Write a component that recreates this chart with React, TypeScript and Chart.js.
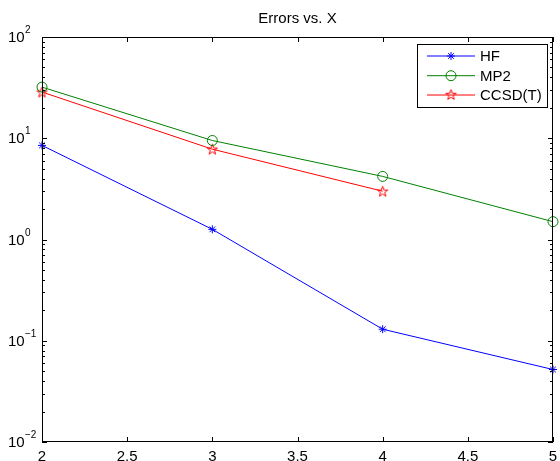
import React, { useEffect, useRef } from 'react';
import { Chart, registerables } from 'chart.js';
import { drawPoint } from 'chart.js/helpers';

Chart.register(...registerables);

const xValues = [2, 3, 4, 5];
const hfErrors = [8.5, 1.26, 0.13, 0.052];
const mp2Errors = [32, 9.5, 4.2, 1.5];
const ccsdtErrors = [28.6, 7.8, 3.0];
const seriesNames = ['HF', 'MP2', 'CCSD(T)'];
const seriesColors = ['#0000ff', '#008000', '#ff0000'];
const xTicks = [2, 2.5, 3, 3.5, 4, 4.5, 5];
const yExponents = [-2, -1, 0, 1, 2];
const titleText = 'Errors vs. X';

const FONT = '"Liberation Sans", Arial, Helvetica, sans-serif';

function makePentagram(color: string, size: number) {
  const c = document.createElement('canvas');
  c.width = size;
  c.height = size;
  const ctx = c.getContext('2d')!;
  const cx = size / 2;
  const cy = size / 2 + 0.5;
  const R = size / 2 - 1;
  const r = R * 0.4;
  ctx.beginPath();
  for (let i = 0; i < 10; i++) {
    const a = -Math.PI / 2 + (i * Math.PI) / 5;
    const rr = i % 2 ? r : R;
    const px = cx + rr * Math.cos(a);
    const py = cy + rr * Math.sin(a);
    if (i === 0) ctx.moveTo(px, py);
    else ctx.lineTo(px, py);
  }
  ctx.closePath();
  ctx.strokeStyle = color;
  ctx.lineWidth = 1;
  ctx.stroke();
  return c;
}

const toPoints = (vals: number[]) => vals.map((v, i) => ({ x: xValues[i], y: v }));

export default function App() {
  const ref = useRef<HTMLCanvasElement>(null);

  useEffect(() => {
    const pentagram = makePentagram(seriesColors[2], 13);
    const styles: any[] = [
      { pointStyle: 'star', radius: 4 },
      { pointStyle: 'circle', radius: 5 },
      { pointStyle: pentagram, radius: 6 },
    ];

    const decorPlugin = {
      id: 'decor',
      afterDatasetsDraw(chart: any) {
        const { ctx, chartArea } = chart;
        const xs = chart.scales.x;
        const ys = chart.scales.y;
        const { left, right, top, bottom } = chartArea;
        ctx.save();
        ctx.strokeStyle = '#000';
        ctx.lineWidth = 1;
        ctx.strokeRect(Math.round(left) + 0.5, Math.round(top) + 0.5, Math.round(right - left) - 1, Math.round(bottom - top) - 1);
        ctx.beginPath();
        xTicks.forEach((v) => {
          const px = Math.round(xs.getPixelForValue(v)) + 0.5;
          ctx.moveTo(px, bottom);
          ctx.lineTo(px, bottom - 5);
          ctx.moveTo(px, top);
          ctx.lineTo(px, top + 5);
        });
        for (let e = yExponents[0]; e <= yExponents[yExponents.length - 1]; e++) {
          for (let m = 1; m <= 9; m++) {
            if (e === yExponents[yExponents.length - 1] && m > 1) continue;
            const v = m * Math.pow(10, e);
            const py = Math.round(ys.getPixelForValue(v)) + 0.5;
            const len = m === 1 ? 5 : 3;
            ctx.moveTo(left, py);
            ctx.lineTo(left + len, py);
            ctx.moveTo(right, py);
            ctx.lineTo(right - len, py);
          }
        }
        ctx.stroke();
        ctx.restore();

        // legend
        ctx.save();
        const lx = 417.5, ly = 44.5, lw = 130, lh = 63;
        ctx.fillStyle = '#fff';
        ctx.fillRect(lx, ly, lw, lh);
        ctx.strokeStyle = '#000';
        ctx.lineWidth = 1;
        ctx.strokeRect(lx, ly, lw, lh);
        ctx.restore();
        const rows = [56, 75.7, 95];
        seriesNames.forEach((name, i) => {
          const y = rows[i];
          ctx.save();
          ctx.strokeStyle = seriesColors[i];
          ctx.lineWidth = 1;
          ctx.beginPath();
          ctx.moveTo(427, y);
          ctx.lineTo(475, y);
          ctx.stroke();
          ctx.restore();
          ctx.save();
          if (i === 2) {
            ctx.drawImage(pentagram, 451 - 6.5, Math.round(y) - 7);
          } else {
            ctx.fillStyle = 'rgba(0,0,0,0)';
            ctx.strokeStyle = seriesColors[i];
            ctx.lineWidth = 1;
            drawPoint(ctx, { pointStyle: styles[i].pointStyle, radius: styles[i].radius, borderWidth: 1, rotation: 0 } as any, 451, y);
          }
          ctx.restore();
          ctx.save();
          ctx.fillStyle = '#000';
          ctx.font = `15px ${FONT}`;
          ctx.textBaseline = 'middle';
          ctx.textAlign = 'left';
          ctx.fillText(name, 480, y + 1);
          ctx.restore();
        });
      },
      afterDraw(chart: any) {
        const { ctx, chartArea } = chart;
        const ys = chart.scales.y;
        ctx.save();
        ctx.fillStyle = '#000';
        ctx.font = `15px ${FONT}`;
        ctx.textAlign = 'center';
        ctx.textBaseline = 'middle';
        ctx.fillText(titleText, (chartArea.left + chartArea.right) / 2, 19);
        yExponents.forEach((e) => {
          const py = ys.getPixelForValue(Math.pow(10, e));
          ctx.textAlign = 'left';
          ctx.textBaseline = 'middle';
          ctx.font = `15px ${FONT}`;
          ctx.fillText('10', 8, py + 1);
          ctx.font = `10px ${FONT}`;
          ctx.textBaseline = 'alphabetic';
          ctx.fillText(e < 0 ? '\u2212' + String(-e) : String(e), 25, py - 4);
        });
        ctx.restore();
      },
    };

    const datasets = [hfErrors, mp2Errors, ccsdtErrors].map((vals, i) => ({
      label: seriesNames[i],
      data: toPoints(vals),
      borderColor: seriesColors[i],
      backgroundColor: 'rgba(0,0,0,0)',
      pointBorderColor: seriesColors[i],
      pointBackgroundColor: 'rgba(0,0,0,0)',
      pointStyle: styles[i].pointStyle,
      pointRadius: styles[i].radius,
      pointBorderWidth: 1,
      borderWidth: 1,
      showLine: true,
      tension: 0,
      clip: false as any,
    }));

    const chart = new Chart(ref.current!, {
      type: 'line',
      data: { datasets },
      plugins: [decorPlugin],
      options: {
        animation: false,
        responsive: false,
        layout: { padding: { top: 37, right: 3, left: 0, bottom: 0 } },
        plugins: { legend: { display: false }, title: { display: false }, tooltip: { enabled: false } },
        scales: {
          x: {
            type: 'linear',
            min: 2,
            max: 5,
            afterBuildTicks: (s: any) => {
              s.ticks = xTicks.map((v) => ({ value: v }));
            },
            ticks: {
              font: { family: FONT, size: 15 },
              color: '#000',
              maxRotation: 0,
              autoSkip: false,
              padding: 6,
              callback: (v: any) => String(v),
            },
            grid: { display: false, drawTicks: false },
            border: { display: false },
            afterFit: (s: any) => {
              s.height = 19;
              s.paddingLeft = 0;
              s.paddingRight = 0;
            },
          },
          y: {
            type: 'logarithmic',
            min: 0.01,
            max: 100,
            ticks: { display: false },
            grid: { display: false, drawTicks: false },
            border: { display: false },
            afterFit: (s: any) => {
              s.width = 42;
              s.paddingTop = 0;
              s.paddingBottom = 0;
            },
          },
        },
      } as any,
    });
    return () => chart.destroy();
  }, []);

  return (
    <div style={{ position: 'fixed', left: 0, top: 0, width: 560, height: 461, background: '#fff' }}>
      <canvas ref={ref} width={560} height={461} style={{ display: 'block' }} />
    </div>
  );
}
